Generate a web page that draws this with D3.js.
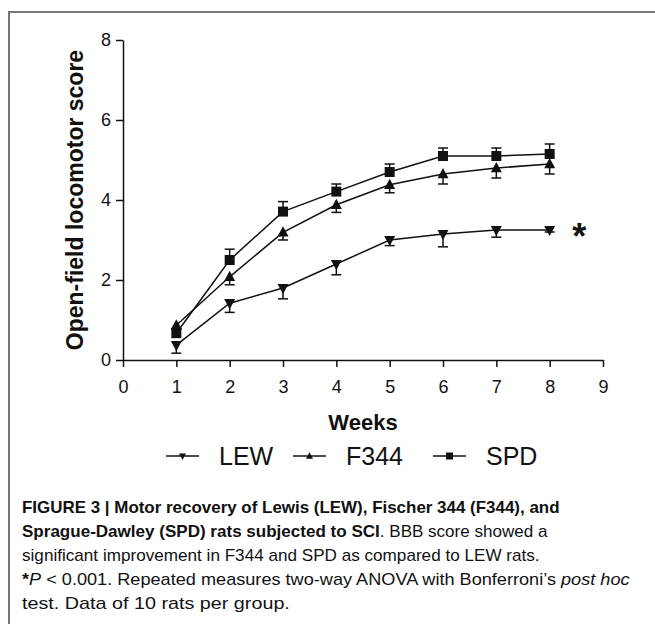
<!DOCTYPE html>
<html>
<head>
<meta charset="utf-8">
<script src="https://cdn.jsdelivr.net/npm/d3@7"></script>
<style>
  body { margin: 0; background: #fff; }
  svg { display: block; font-family: "Liberation Sans", Arial, sans-serif; }
</style>
</head>
<body>
<svg id="chart" width="655" height="624"></svg>
<script>
// BBB scores per week
const weeks = [1, 2, 3, 4, 5, 6, 7, 8]
const lew = [0.37, 1.42, 1.8, 2.4, 3.0, 3.15, 3.25, 3.25]
const lewErr = [0.2, 0.23, 0.27, 0.27, 0.14, 0.32, 0.18, 0.05]
const f344 = [0.87, 2.08, 3.19, 3.88, 4.38, 4.65, 4.8, 4.9]
const f344Err = [0.1, 0.2, 0.19, 0.19, 0.2, 0.25, 0.25, 0.25]
const spd = [0.67, 2.5, 3.71, 4.21, 4.7, 5.1, 5.1, 5.15]
const spdErr = [0.1, 0.27, 0.25, 0.19, 0.2, 0.2, 0.2, 0.25]
const xTicks = [0, 1, 2, 3, 4, 5, 6, 7, 8, 9]
const yTicks = [0, 2, 4, 6, 8]

const series = [
  {name: "LEW", values: lew, err: lewErr, dir: 1, symbol: "down"},
  {name: "F344", values: f344, err: f344Err, dir: 1, symbol: "up"},
  {name: "SPD", values: spd, err: spdErr, dir: -1, symbol: "square"}
]

const svg = d3.select("#chart")
const ink = "#111"

// frame
svg.append("path")
    .attr("d", "M9,624V12H655")
    .attr("fill", "none")
    .attr("stroke", "#777")
    .attr("stroke-width", 2)

const x = d3.scaleLinear().domain([0, 9]).range([123, 603])
const y = d3.scaleLinear().domain([0, 8]).range([360, 40])

const xAxis = g => g
    .attr("transform", `translate(0,${y(0)})`)
    .call(d3.axisBottom(x).tickValues(xTicks).tickSize(7).tickSizeOuter(0).tickPadding(13))
    .call(g => g.selectAll("text").attr("font-size", 18).attr("fill", ink))

const yAxis = g => g
    .attr("transform", `translate(${x(0)},0)`)
    .call(d3.axisLeft(y).tickValues(yTicks).tickSize(7).tickSizeOuter(0).tickPadding(5))
    .call(g => g.selectAll("text").attr("font-size", 18).attr("fill", ink))

svg.append("g").call(xAxis)
svg.append("g").call(yAxis)
svg.selectAll(".domain, .tick line").attr("stroke", ink).attr("stroke-width", 1.5)
svg.selectAll(".tick text").attr("font-family", "Liberation Sans, Arial, sans-serif")

svg.append("text")
    .attr("x", x(4.5))
    .attr("y", 430)
    .attr("text-anchor", "middle")
    .attr("font-size", 22)
    .attr("font-weight", "bold")
    .attr("fill", ink)
    .text("Weeks")

svg.append("text")
    .attr("transform", `translate(83,${y(4)}) rotate(-90)`)
    .attr("text-anchor", "middle")
    .attr("font-size", 23)
    .attr("font-weight", "bold")
    .attr("fill", ink)
    .text("Open-field locomotor score")

function symbolPath(kind, size) {
  const s = size / 2
  if (kind === "square") return `M${-s},${-s}H${s}V${s}H${-s}Z`
  if (kind === "up") return `M0,${-s * 1.1}L${s},${s * 0.75}H${-s}Z`
  return `M0,${s * 1.1}L${s},${-s * 0.75}H${-s}Z`
}

const line = d3.line()
    .x((d, i) => x(weeks[i]))
    .y(d => y(d))

const plot = svg.append("g")

series.forEach(s => {
  const g = plot.append("g")
  // error bars, one-sided
  s.values.forEach((v, i) => {
    const xe = x(weeks[i])
    const yEnd = y(v - s.dir * s.err[i])
    g.append("line")
        .attr("x1", xe).attr("x2", xe)
        .attr("y1", y(v)).attr("y2", yEnd)
        .attr("stroke", ink).attr("stroke-width", 1.5)
    g.append("line")
        .attr("x1", xe - 5).attr("x2", xe + 5)
        .attr("y1", yEnd).attr("y2", yEnd)
        .attr("stroke", ink).attr("stroke-width", 1.5)
  })
  g.append("path")
      .attr("d", line(s.values))
      .attr("fill", "none")
      .attr("stroke", ink)
      .attr("stroke-width", 1.5)
  g.selectAll(".m")
    .data(s.values)
    .join("path")
      .attr("transform", (d, i) => `translate(${x(weeks[i])},${y(d)})`)
      .attr("d", symbolPath(s.symbol, s.symbol === "square" ? 10 : 11))
      .attr("fill", ink)
})

// significance marker
svg.append("text")
    .attr("x", x(8.5) + 3)
    .attr("y", y(3.25) + 19)
    .attr("text-anchor", "middle")
    .attr("font-size", 36)
    .attr("font-weight", "bold")
    .attr("fill", ink)
    .text("*")

// legend
const legendX = [166, 293, 433]
const legend = svg.append("g")
series.forEach((s, i) => {
  const lx = legendX[i]
  legend.append("line")
      .attr("x1", lx).attr("x2", lx + 33)
      .attr("y1", 456).attr("y2", 456)
      .attr("stroke", ink).attr("stroke-width", 1.5)
  legend.append("path")
      .attr("transform", `translate(${lx + 16.5},456)`)
      .attr("d", symbolPath(s.symbol, 7))
      .attr("fill", ink)
  legend.append("text")
      .attr("x", lx + 53)
      .attr("y", 465)
      .attr("font-size", 25)
      .attr("fill", ink)
      .text(s.name)
})

// caption
const captionLines = [
  [["FIGURE 3 | Motor recovery of Lewis (LEW), Fischer 344 (F344), and", "bold"]],
  [["Sprague-Dawley (SPD) rats subjected to SCI", "bold"], [". BBB score showed a", ""]],
  [["significant improvement in F344 and SPD as compared to LEW rats.", ""]],
  [["*", "bold"], ["P", "italic"], [" < 0.001. Repeated measures two-way ANOVA with Bonferroni\u2019s ", ""], ["post hoc", "italic"]],
  [["test. Data of 10 rats per group.", ""]]
]
const captionWidth = [538, 526, 518, 608, 268]

captionLines.forEach((parts, i) => {
  const t = svg.append("text")
      .attr("x", 0)
      .attr("y", 0)
      .attr("font-size", 16)
      .attr("fill", ink)
  parts.forEach(([str, style]) => {
    t.append("tspan")
        .attr("font-weight", style === "bold" ? "bold" : null)
        .attr("font-style", style === "italic" ? "italic" : null)
        .text(str)
  })
  const w = t.node().getComputedTextLength()
  t.attr("transform", `translate(22,${513 + i * 24}) scale(${captionWidth[i] / w},1)`)
})
</script>
</body>
</html>
